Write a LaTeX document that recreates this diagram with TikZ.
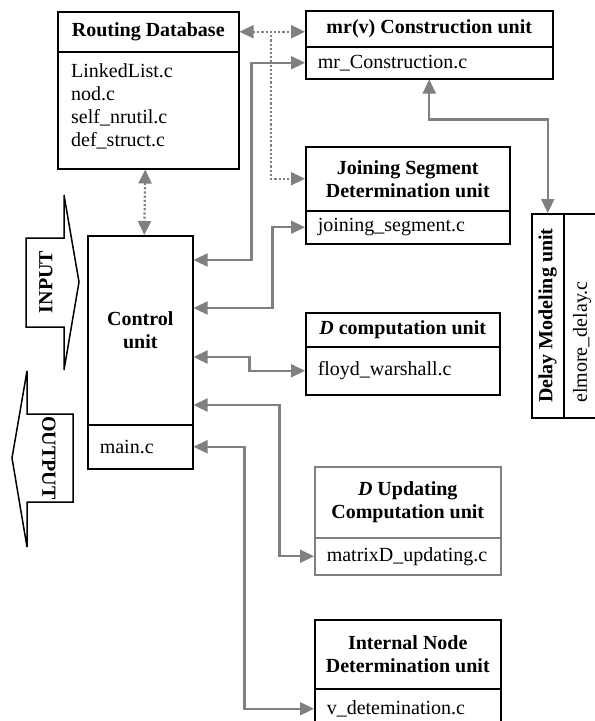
\documentclass[tikz,border=0pt]{standalone}
\usepackage{fontspec}
\setmainfont{Liberation Serif}
\usepackage{graphicx}
\usetikzlibrary{arrows.meta}

\newcommand{\hfnt}{\fontsize{20}{23}\selectfont\bfseries}
\newcommand{\ffnt}{\fontsize{20}{23}\selectfont}

\begin{document}
\begin{tikzpicture}[x=1pt,y=-1pt,>={Triangle[length=14pt,width=13pt]}]
\tikzstyle{unit} = [draw,line width=1.5pt,anchor=north west,inner sep=0pt,align=center,font=\hfnt]
\tikzstyle{file} = [draw,line width=1.5pt,anchor=north west,inner xsep=12pt,inner ysep=0pt,align=left,font=\ffnt]
\tikzstyle{link} = [gray,line width=2.2pt]
\tikzstyle{dlink} = [gray,line width=2.2pt,dotted]
\tikzstyle{iolabel} = [font=\hfnt,inner sep=0pt]

\clip (0,0) rectangle (595,721);

% input / output arrows
\draw[line width=1.5pt] (26,238) -- (64,238) -- (64,195) -- (79,282) -- (64,370) -- (64,327) -- (26,327) -- cycle;
\draw[line width=1.5pt] (73,414) -- (27,414) -- (27,371) -- (12,458) -- (27,547) -- (27,502) -- (73,502) -- cycle;
\node[iolabel,rotate=90] (inputTxt) at (46,282) {INPUT};
\node[iolabel,rotate=-90] (outputTxt) at (49,458) {OUTPUT};

% units
\node[unit,minimum width=181pt,minimum height=40pt] (rdHead) at (57,11) {Routing Database};
\node[unit,minimum width=181pt,minimum height=117pt] (rdBody) at (57,51) {};
\node[anchor=north west,inner sep=0pt,align=left,font=\ffnt] (rdFiles) at (71,63) {LinkedList.c\\nod.c\\self\_nrutil.c\\def\_struct.c};

\node[unit,minimum width=105pt,minimum height=189pt] (ctrl) at (87,235) {Control\\unit};
\node[file,text width=81pt,minimum height=44pt] (mainBody) at (87,424) {main.c};

\node[unit,minimum width=247pt,minimum height=36pt] (mrHead) at (305,10) {mr(v) Construction unit};
\node[file,text width=223pt,minimum height=32pt] (mrBody) at (305,46) {mr\_Construction.c};

\node[unit,minimum width=204pt,minimum height=64pt] (jsHead) at (305,146) {Joining Segment\\Determination unit};
\node[file,text width=180pt,minimum height=33pt] (jsBody) at (305,210) {joining\_segment.c};

\node[unit,minimum width=194pt,minimum height=34pt] (dcHead) at (305,312) {\textit{D} computation unit};
\node[file,text width=170pt,minimum height=48pt] (dcBody) at (305,346) {floyd\_warshall.c};

\node[unit,draw=gray,minimum width=186pt,minimum height=71pt] (duHead) at (314,466) {\textit{D} Updating\\Computation unit};
\node[file,draw=gray,text width=162pt,minimum height=37pt] (duBody) at (314,537) {matrixD\_updating.c};

\node[unit,minimum width=186pt,minimum height=69pt] (inHead) at (314,619) {Internal Node\\Determination unit};
\node[file,text width=162pt,minimum height=40pt] (inBody) at (314,688) {v\_detemination.c};

\node[unit,minimum width=32pt,minimum height=204pt] (dlyHead) at (531,213) {\rotatebox{90}{Delay Modeling unit}};
\node[unit,minimum width=40pt,minimum height=204pt] (dlyBody) at (563,213) {};
\node[rotate=90,anchor=west,inner sep=0pt,font=\ffnt] (dlyFile) at (582,403) {elmore\_delay.c};

% connectors
\coordinate (dbSplit) at (271,31);
\draw[dlink,<->] (rdHead.east) -- (rdHead.east -| mrHead.west);
\draw[dlink,->] (dbSplit) |- (jsHead.west);
\draw[dlink,<->] ([xshift=-3pt]rdBody.south) -- ([xshift=4pt]ctrl.north);
\draw[link,<->] ([yshift=-25pt]ctrl.north east) -- ++(58,0) |- (mrBody.west);
\draw[link,<->] ([yshift=-73pt]ctrl.north east) -- ++(79,0) |- (jsBody.west);
\draw[link,<->] ([yshift=-122pt]ctrl.north east) -- ++(56,0) |- (dcBody.west);
\draw[link,<->] ([yshift=-170pt]ctrl.north east) -- ++(86,0) |- (duBody.west);
\draw[link,<->] (mainBody.east) -- ++(51,0) |- (inBody.west);
\draw[link,<->] (mrBody.south) -- ++(0,40) -| (dlyHead.north);
\end{tikzpicture}
\end{document}
